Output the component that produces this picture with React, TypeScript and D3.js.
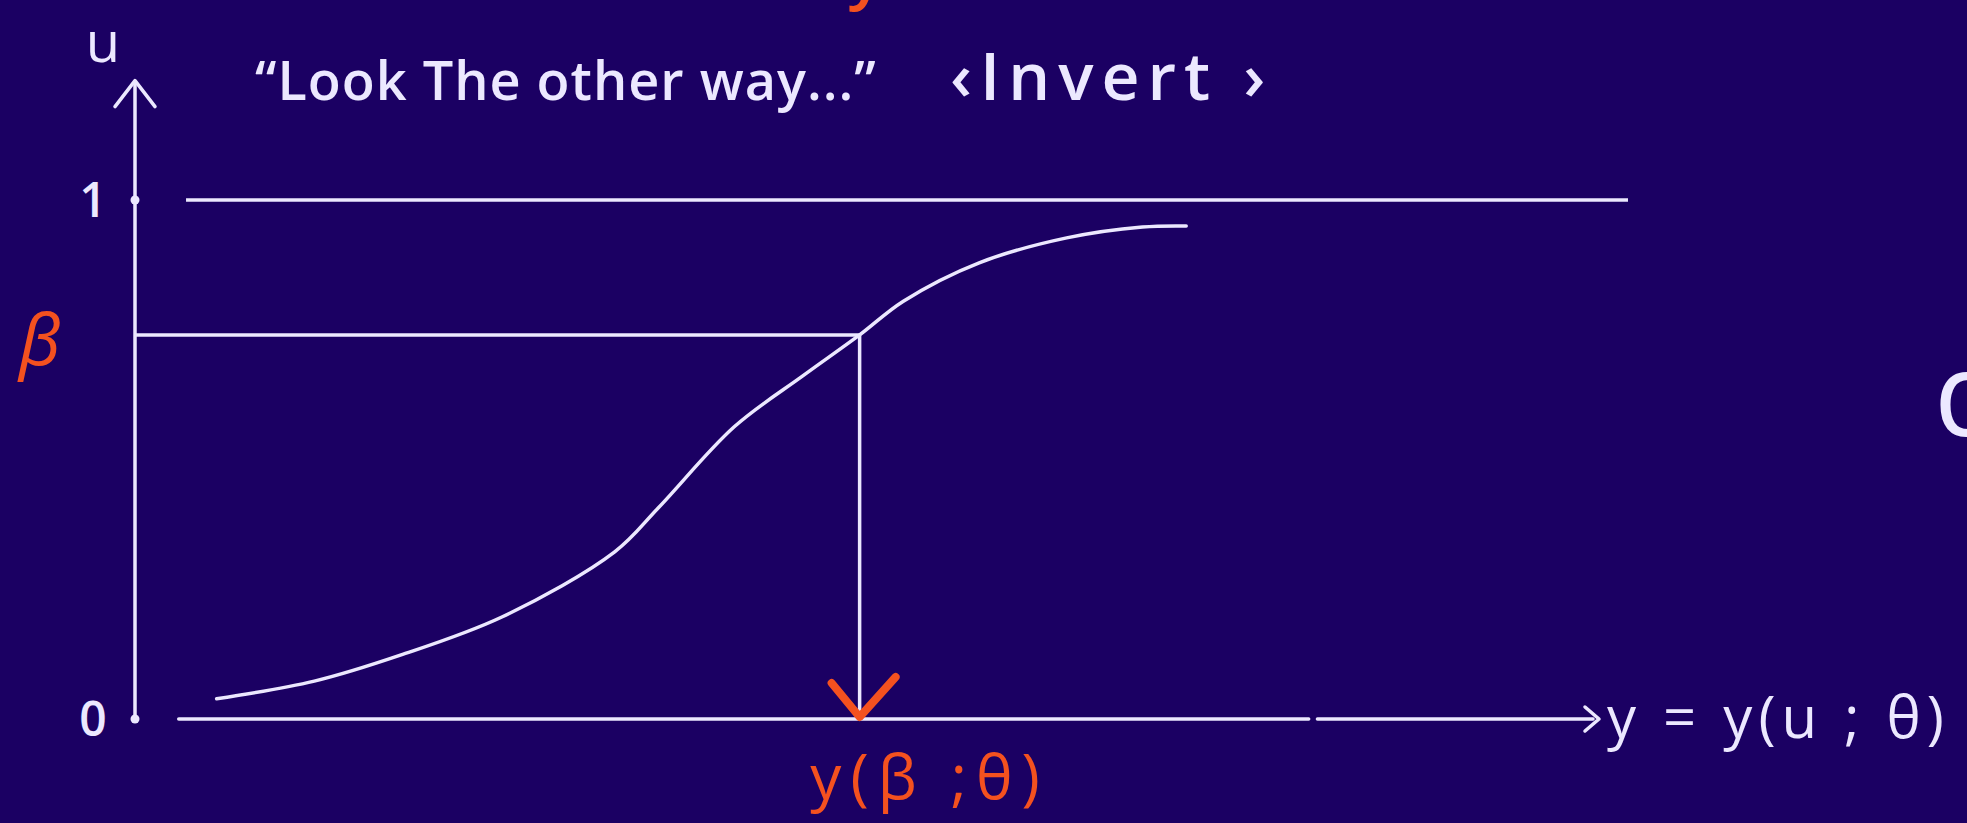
import React from "react";
import * as d3 from "d3";

// Sketch of inverting a CDF: pick a level beta on the u axis, follow it to the curve, drop to y(beta; theta).
const W = 1967;
const H = 823;

// Curve samples: x = y-value, u = cumulative level
const curveY = [0.56, 1.23, 1.82, 2.52, 3.29, 3.59, 4.11, 4.58, 4.97, 5.27, 5.79, 6.39, 6.91, 7.21];
const curveU = [0.039, 0.073, 0.123, 0.197, 0.322, 0.407, 0.563, 0.661, 0.74, 0.805, 0.879, 0.927, 0.948, 0.95];

const beta = 0.74;
const yBeta = 4.97;

const uTicks = [0, 1];
const uTickLabels = ["0", "1"];

// Horizontal guide at u = 1 and the two pen strokes of the x axis
const upperLine = [0.35, 10.24];
const xAxisStrokes = [
  [0.3, 8.05],
  [8.11, 10.0],
];

const BG = "#1b0063";
const INK = "#ece8ff";
const RED = "#f4511f";
const FONT = "'Open Sans', 'Noto Sans', sans-serif";

export default function App() {
  const x = d3.scaleLinear().domain([0, 10]).range([135, 1593]);
  const u = d3.scaleLinear().domain([0, 1]).range([719, 200]);

  const pts: [number, number][] = curveY.map((v, i) => [v, curveU[i]]);
  const curvePath = d3
    .line<[number, number]>()
    .x((d) => x(d[0]))
    .y((d) => u(d[1]))
    .curve(d3.curveCatmullRom.alpha(0.5))(pts) as string;

  const x0 = x(0);
  const xEnd = x(10);
  const yAxisTop = u(1.23);

  return (
    <svg
      width={W}
      height={H}
      style={{ position: "fixed", left: 0, top: 0, background: BG }}
    >
      <rect width={W} height={H} fill={BG} />

      {/* cut-off red stroke at the top edge */}
      <text x={848} y={-4} fill={RED} fontFamily={FONT} fontSize={66} fontWeight={600}>
        y
      </text>

      {/* title */}
      <text x={255} y={100} fill={INK} fontFamily={FONT} fontSize={54} fontWeight={600} letterSpacing={1}>
        “Look The other way...”
      </text>
      <text x={950} y={100} fill={INK} fontFamily={FONT} fontSize={66} fontWeight={600} letterSpacing={8}>
        ‹Invert ›
      </text>

      {/* u axis with arrow */}
      <line x1={x0} x2={x0} y1={u(0)} y2={yAxisTop} stroke={INK} strokeWidth={3.5} />
      <path
        d={`M${x0 - 20},${yAxisTop + 26} L${x0},${yAxisTop} L${x0 + 20},${yAxisTop + 26}`}
        fill="none"
        stroke={INK}
        strokeWidth={3.5}
        strokeLinecap="round"
        strokeLinejoin="round"
      />
      <text x={x0 - 32} y={62} fill={INK} fontFamily={FONT} fontSize={56} textAnchor="middle">
        u
      </text>

      {uTicks.map((t, i) => (
        <g key={t}>
          <circle cx={x0} cy={u(t)} r={4.5} fill={INK} />
          <text
            x={x0 - 42}
            y={u(t)}
            dy="0.36em"
            fill={INK}
            fontFamily={FONT}
            fontSize={48}
            fontWeight={600}
            textAnchor="middle"
          >
            {uTickLabels[i]}
          </text>
        </g>
      ))}

      {/* u = 1 guide */}
      <line
        x1={x(upperLine[0])}
        x2={x(upperLine[1])}
        y1={u(1)}
        y2={u(1)}
        stroke={INK}
        strokeWidth={3.5}
      />

      {/* x axis strokes with arrow */}
      {xAxisStrokes.map((s, i) => (
        <line
          key={i}
          x1={x(s[0])}
          x2={x(s[1])}
          y1={u(0)}
          y2={u(0)}
          stroke={INK}
          strokeWidth={3.5}
          strokeLinecap="round"
        />
      ))}
      <path
        d={`M${xEnd - 8},${u(0) - 12} L${xEnd + 6},${u(0)} L${xEnd - 8},${u(0) + 12}`}
        fill="none"
        stroke={INK}
        strokeWidth={3.5}
        strokeLinecap="round"
        strokeLinejoin="round"
      />
      <text
        x={xEnd + 14}
        y={u(0)}
        dy="0.32em"
        fill={INK}
        fontFamily={FONT}
        fontSize={58}
        letterSpacing={6}
      >
        y = y(u ; θ)
      </text>

      {/* CDF curve */}
      <path d={curvePath} fill="none" stroke={INK} strokeWidth={3.5} strokeLinecap="round" />

      {/* beta level and drop to the x axis */}
      <line x1={x0} x2={x(yBeta)} y1={u(beta)} y2={u(beta)} stroke={INK} strokeWidth={3.5} />
      <line x1={x(yBeta)} x2={x(yBeta)} y1={u(beta)} y2={u(0)} stroke={INK} strokeWidth={3.5} />
      <path
        d={`M${x(yBeta) - 28},${u(0) - 36} L${x(yBeta)},${u(0) - 2} L${x(yBeta) + 36},${u(0) - 42}`}
        fill="none"
        stroke={RED}
        strokeWidth={8}
        strokeLinecap="round"
        strokeLinejoin="round"
      />

      <text
        x={40}
        y={u(beta)}
        dy="0.42em"
        fill={RED}
        fontFamily={FONT}
        fontSize={72}
        fontStyle="italic"
        textAnchor="middle"
      >
        β
      </text>
      <text
        x={x(yBeta) + 70}
        y={u(0) + 80}
        fill={RED}
        fontFamily={FONT}
        fontSize={62}
        letterSpacing={9}
        textAnchor="middle"
      >
        y(β ;θ)
      </text>

      {/* partially visible letter at the right edge */}
      <text x={1934} y={436} fill={INK} fontFamily={FONT} fontSize={118}>
        q
      </text>
    </svg>
  );
}
